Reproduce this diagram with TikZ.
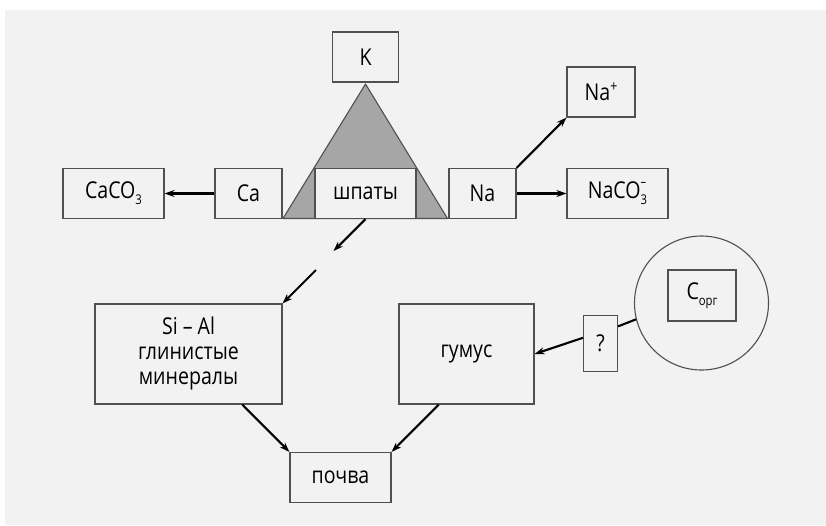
\documentclass[tikz,border=0pt]{standalone}
\usepackage{fontspec}
\setmainfont{Open Sans}
\usetikzlibrary{arrows.meta,calc}
\definecolor{bgc}{HTML}{F2F2F2}
\definecolor{edgec}{HTML}{505050}
\definecolor{trif}{HTML}{A6A6A6}
\newcommand\tx[1]{\scalebox{1.03}[1.22]{#1}}
\newcommand\mysub[1]{\raisebox{-0.5ex}{\fontsize{11}{11}\selectfont #1}}
\newcommand\mysubsup[2]{\makebox[0pt][l]{\raisebox{1.0ex}{\fontsize{11}{11}\selectfont #2}}\raisebox{-0.5ex}{\fontsize{11}{11}\selectfont #1}}
\begin{document}
\begin{tikzpicture}[x=1pt,y=-1pt,
  box/.style={draw=edgec,line width=1.1pt,fill=bgc,rectangle,inner sep=0pt,
    font=\fontsize{19}{20.5}\selectfont,text=black,align=center},
  arr/.style={draw=black,line width=2.1pt,-{Stealth[length=10pt,width=7pt]}},
  ln/.style={draw=black,line width=2.1pt}]
\useasboundingbox (0,0) rectangle (826,525);
\fill[white] (0,0) rectangle (826,525);
\fill[bgc] (5,10) rectangle (826,525);
% triangle
\draw[edgec,line width=1.1pt,fill=trif,line join=round] (365.5,84) -- (447.5,218.5) -- (283,218.5) -- cycle;
\node[box,minimum width=66pt,minimum height=50pt] (K) at (365.5,57) {\tx{K}};
\node[box,minimum width=101pt,minimum height=50pt] (sp) at (365.5,193.5) {\tx{шпаты}};
\node[box,minimum width=67pt,minimum height=50pt] (Ca) at (248.5,193.5) {\tx{Ca}};
\node[box,minimum width=101pt,minimum height=50pt] (CaCO) at (113.5,193.5) {\tx{CaCO\mysub{3}}};
\node[box,minimum width=67pt,minimum height=50pt] (Na) at (482.5,193.5) {\tx{Na}};
\node[box,minimum width=101pt,minimum height=50pt] (NaCO) at (617.5,193.5) {\tx{NaCO\mysubsup{3}{–}}};
\node[box,minimum width=68pt,minimum height=50pt] (Nap) at (601,92) {\tx{Na\raisebox{0.75ex}{\fontsize{12}{12}\selectfont +}}};
\node[box,minimum width=187pt,minimum height=100pt] (SiAl) at (188.5,354) {\tx{\begin{tabular}{@{}c@{}}Si – Al\\глинистые\\минералы\end{tabular}}};
\node[box,minimum width=135pt,minimum height=100pt] (gum) at (466.5,354) {\tx{гумус}};
\node[box,minimum width=34pt,minimum height=56pt] (q) at (600.5,343.5) {\tx{?}};
\node[draw=edgec,line width=1.1pt,circle,minimum size=134pt,inner sep=0pt] (circ) at (701.5,303) {};
\node[box,minimum width=68pt,minimum height=51pt] (Corg) at (702,295.5) {\tx{C\mysub{орг}}};
\node[box,minimum width=101pt,minimum height=50pt] (soil) at (340.5,477.5) {\tx{почва}};
\coordinate (g1) at (333.5,251);
\coordinate (g2) at (316,270);
% arrows
\draw[arr] (Ca.west) -- (CaCO.east);
\draw[arr] (Na.east) -- (NaCO.west);
\draw[arr] (Na.north east) -- (Nap.south west);
\draw[arr] (sp.south) -- (g1);
\draw[arr] (g2) -- (SiAl.north east);
\draw[arr] ($(SiAl.south west)!0.786!(SiAl.south east)$) -- (soil.north west);
\draw[arr] ($(gum.south west)!0.296!(gum.south east)$) -- (soil.north east);
\draw[ln] (circ.194.2) -- ($(q.north east)!0.2!(q.south east)$);
\draw[arr] ($(q.north west)!0.4!(q.south west)$) -- (gum.east);
\end{tikzpicture}
\end{document}
